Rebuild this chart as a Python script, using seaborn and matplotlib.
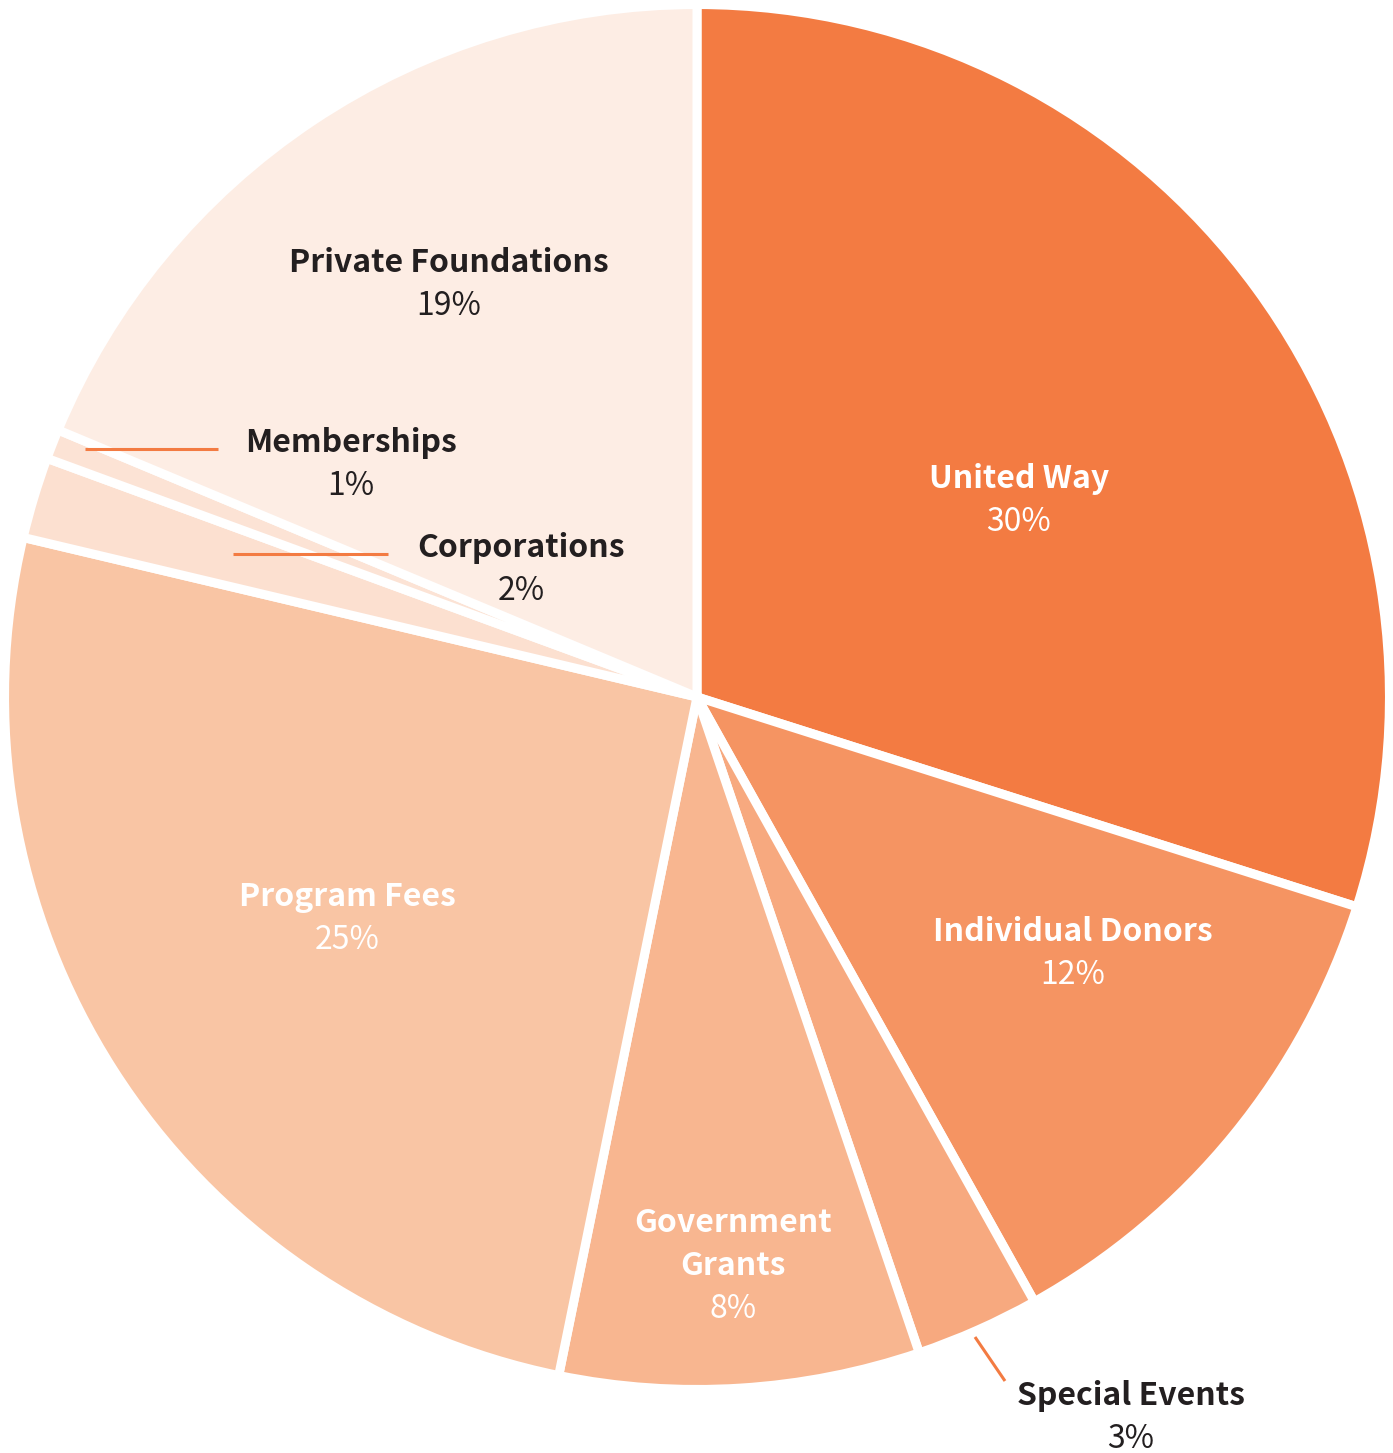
import matplotlib
matplotlib.use("Agg")
import matplotlib.pyplot as plt
import seaborn as sns

categories = ["United Way", "Individual Donors", "Special Events", "Government Grants",
              "Program Fees", "Corporations", "Memberships", "Private Foundations"]
label_lines = [["United Way"], ["Individual Donors"], ["Special Events"], ["Government", "Grants"],
               ["Program Fees"], ["Corporations"], ["Memberships"], ["Private Foundations"]]
values = [29.9, 12.0, 2.9, 8.4, 25.5, 1.9, 0.7, 18.7]
pct_labels = ["30%", "12%", "3%", "8%", "25%", "2%", "1%", "19%"]
colors = ["#F37B42", "#F59462", "#F7A97F", "#F8B690", "#F9C5A4", "#FCE0D0", "#FCE3D5", "#FDEDE4"]
text_colors = ["white", "white", "#231F20", "white", "white", "#231F20", "#231F20", "#231F20"]
# label centre positions in pixels (x, y of first name line)
label_px = [(1019, 479), (1073, 932), (1131, 1396), (733, 1223), (347, 897),
            (521, 548), (351, 443), (449, 263)]

sns.set_theme(style="white")
plt.rcParams["font.family"] = ["Noto Sans CJK SC", "DejaVu Sans"]

W, H = 1393, 1453
cx, cy, R = 697, 697, 688
fig = plt.figure(figsize=(W / 100, H / 100), dpi=100)
fig.patch.set_facecolor("white")
ax = fig.add_axes([(cx - R) / W, (H - cy - R) / H, 2 * R / W, 2 * R / H])

ax.pie(values, colors=colors, startangle=90, counterclock=False, radius=1.0065,
       wedgeprops=dict(edgecolor="white", linewidth=6.5))
ax.set_xlim(-1, 1)
ax.set_ylim(-1, 1)
ax.set_aspect("equal")
ax.axis("off")

def px2d(x, y):
    return (x - cx) / R, (cy - y) / R

line_h = 43
for i, (lines, pct) in enumerate(zip(label_lines, pct_labels)):
    x, y = label_px[i]
    for k, ln in enumerate(lines):
        dx, dy = px2d(x, y + k * line_h)
        ax.text(dx, dy, ln, ha="center", va="center", fontsize=23, fontweight="bold",
                color=text_colors[i], clip_on=False)
    dx2, dy2 = px2d(x, y + len(lines) * line_h)
    ax.text(dx2, dy2, pct, ha="center", va="center", fontsize=23,
            color=text_colors[i], clip_on=False)

# leader lines
leaders = [((85, 449), (218, 449)), ((233, 554), (388, 554)), ((975, 1337), (1005, 1381))]
for (x1, y1), (x2, y2) in leaders:
    a = px2d(x1, y1)
    b = px2d(x2, y2)
    ax.plot([a[0], b[0]], [a[1], b[1]], color="#F37B42", lw=2.2, clip_on=False,
            solid_capstyle="butt")

fig.savefig("out.png", dpi=100, facecolor="white")
